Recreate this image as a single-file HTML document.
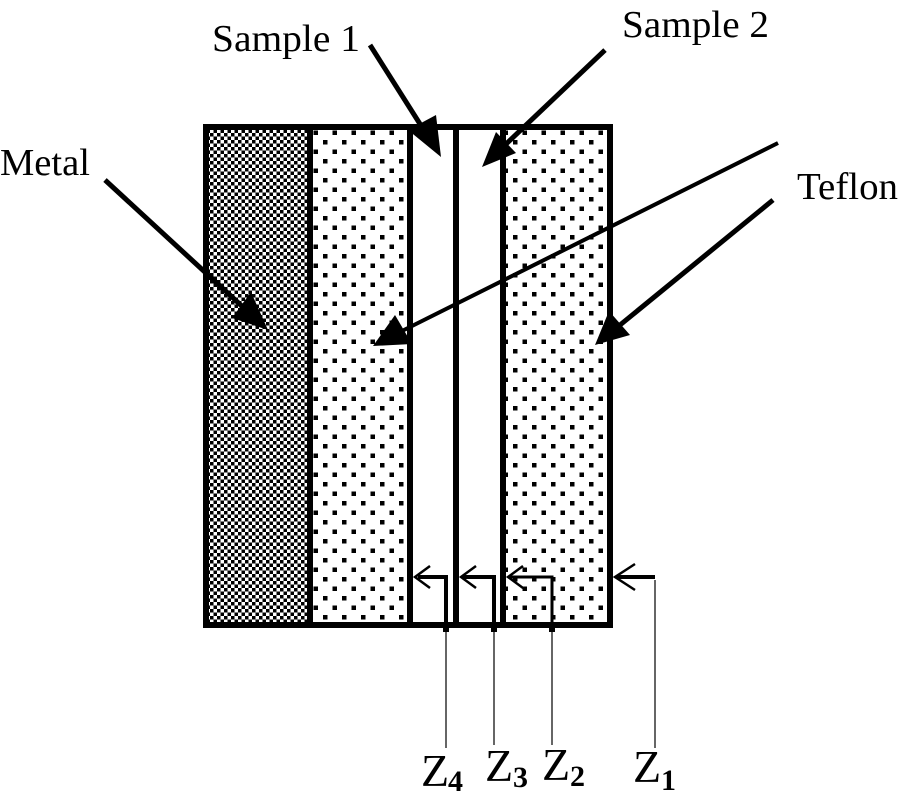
<!DOCTYPE html>
<html><head><style>body{margin:0;background:#fff}svg{display:block}</style></head><body>
<svg width="900" height="800" viewBox="0 0 900 800" xmlns="http://www.w3.org/2000/svg" font-family="Liberation Serif, serif">
<defs>
<pattern id="chk" width="7" height="7" patternUnits="userSpaceOnUse">
<rect width="7" height="7" fill="#fff"/><rect width="3.5" height="3.5" fill="#000"/><rect x="3.5" y="3.5" width="3.5" height="3.5" fill="#000"/>
</pattern>
<pattern id="dots" x="310" y="127" width="19" height="19" patternUnits="userSpaceOnUse">
<rect width="19" height="19" fill="#fff"/><rect x="3.5" y="3.5" width="4.5" height="4.5" fill="#000"/><rect x="13" y="13" width="4.5" height="4.5" fill="#000"/>
</pattern>
</defs>
<rect x="206" y="127" width="104" height="498" fill="url(#chk)"/>
<rect x="310" y="127" width="100" height="498" fill="url(#dots)"/>
<rect x="503" y="127" width="107" height="498" fill="url(#dots)"/>
<g stroke="#000" stroke-width="6" fill="none">
<rect x="206" y="127" width="404" height="498"/>
<line x1="310" y1="127" x2="310" y2="625"/>
<line x1="410" y1="127" x2="410" y2="625"/>
<line x1="456" y1="127" x2="456" y2="625"/>
<line x1="503" y1="127" x2="503" y2="625"/>
</g>
<g fill="#000">
<line x1="370" y1="45" x2="420" y2="124" stroke="#000" stroke-width="5"/>
<polygon points="441,157 408,130 436,115"/>
<line x1="605" y1="50" x2="505" y2="145" stroke="#000" stroke-width="5"/>
<polygon points="482,167 496,132 516,153"/>
<line x1="105" y1="180" x2="245" y2="309" stroke="#000" stroke-width="5"/>
<polygon points="268,330 232,318 251,292"/>
<line x1="778" y1="143" x2="400" y2="332" stroke="#000" stroke-width="4"/>
<polygon points="373,346 395,315 412,344"/>
<line x1="773" y1="200" x2="620" y2="325" stroke="#000" stroke-width="5"/>
<polygon points="595,345 609,311 630,335"/>
</g>
<g stroke="#000" fill="none">
<polyline points="446,625 446,577 418,577" stroke-width="4"/>
<polyline points="494,625 494,577 462,577" stroke-width="4"/>
<polyline points="552,625 552,577 510,577" stroke-width="3"/>
<line x1="655" y1="577" x2="616" y2="577" stroke-width="4"/>
<path d="M430,566 L415,577 L430,588 M476,566 L461,577 L476,588 M523,566 L508,577 L523,588 M635,564 L615,577 L635,590" stroke-width="2.5"/>
<g stroke-width="1.2"><line x1="446" y1="628" x2="446" y2="748"/><line x1="494" y1="628" x2="494" y2="745"/><line x1="552" y1="628" x2="552" y2="745"/><line x1="655" y1="580" x2="655" y2="748"/></g>
</g>
<g fill="#000">
<rect x="443" y="624" width="6" height="8"/><rect x="491" y="624" width="6" height="8"/><rect x="549" y="624" width="6" height="8"/>
</g>
<g font-size="38" fill="#000">
<text x="0" y="175" textLength="90" lengthAdjust="spacingAndGlyphs">Metal</text>
<text x="212" y="51" textLength="148" lengthAdjust="spacingAndGlyphs">Sample 1</text>
<text x="622" y="37" textLength="147" lengthAdjust="spacingAndGlyphs">Sample 2</text>
<text x="797" y="199" textLength="101" lengthAdjust="spacingAndGlyphs">Teflon</text>
</g>
<g font-size="46" fill="#000">
<text x="421" y="786">Z</text><text x="448" y="791" font-size="30" font-weight="bold">4</text>
<text x="485" y="781">Z</text><text x="513" y="787" font-size="30" font-weight="bold">3</text>
<text x="542" y="780">Z</text><text x="570" y="786" font-size="30" font-weight="bold">2</text>
<text x="633" y="782">Z</text><text x="661" y="790" font-size="30" font-weight="bold">1</text>
</g>
</svg>
</body></html>
